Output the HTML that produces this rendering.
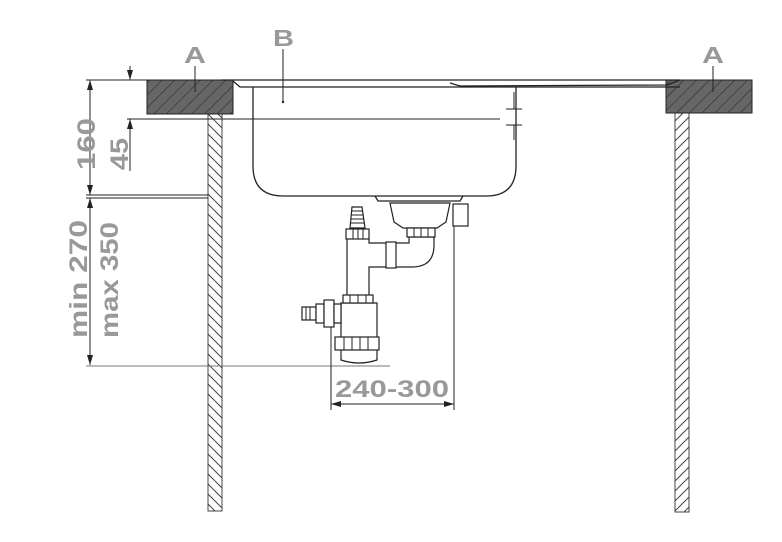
<!DOCTYPE html>
<html><head><meta charset="utf-8"><style>
html,body{margin:0;padding:0;background:#fff;}
svg{display:block;}
text{font-family:"Liberation Sans",sans-serif;font-weight:bold;fill:#999;}
</style></head><body>
<svg width="782" height="542" viewBox="0 0 782 542" xmlns="http://www.w3.org/2000/svg">
<defs>
<pattern id="hc" width="9" height="9" patternUnits="userSpaceOnUse" patternTransform="rotate(45)">
<rect width="9" height="9" fill="#666"/><line x1="0" y1="0" x2="0" y2="9" stroke="#222" stroke-width="1"/>
</pattern>
<pattern id="hl" width="10" height="10" patternUnits="userSpaceOnUse">
<path d="M-2,-6 L18,14 M-2,4 L18,24 M-2,-16 L18,4" stroke="#444" stroke-width="1"/>
</pattern>
<pattern id="hr" width="10" height="10" patternUnits="userSpaceOnUse">
<path d="M12,-6 L-8,14 M12,4 L-8,24 M12,-16 L-8,4" stroke="#444" stroke-width="1"/>
</pattern>
<marker id="ar" markerWidth="10" markerHeight="8" refX="10" refY="4" orient="auto-start-reverse" markerUnits="userSpaceOnUse">
<path d="M0,1 L10,4 L0,7 Z" fill="#222"/></marker>
</defs>

<rect x="208" y="114" width="14" height="397" fill="url(#hl)" stroke="#444" stroke-width="1"/>
<rect x="675" y="113" width="14" height="399" fill="url(#hr)" stroke="#444" stroke-width="1"/>

<rect x="147" y="80" width="86" height="34" fill="url(#hc)" stroke="#222"/>
<rect x="666" y="80" width="86" height="33" fill="url(#hc)" stroke="#222"/>

<text x="184" y="63" font-size="23" textLength="22" lengthAdjust="spacingAndGlyphs">A</text>
<line x1="195" y1="66" x2="195" y2="92" stroke="#222"/>
<text x="273" y="46" font-size="23" textLength="21" lengthAdjust="spacingAndGlyphs">B</text>
<line x1="283" y1="49" x2="283" y2="101" stroke="#222"/><circle cx="283" cy="102" r="1.2" fill="#222"/>
<text x="702" y="63" font-size="23" textLength="22" lengthAdjust="spacingAndGlyphs">A</text>
<line x1="713" y1="66" x2="713" y2="92" stroke="#222"/>

<g fill="none" stroke="#222" stroke-width="1.3">
<path d="M222,80 L680,80 L667,85 L460,86 L450,83"/>
<path d="M233,81 L240,87 L680,87"/>
<path d="M253,87 L253,166 Q253,196 283,196 L486,196 Q516,196 516,166 L516,87"/>
<path d="M375,196 L378,201 L460,201 L463,196"/>
</g>
<line x1="514" y1="92" x2="514" y2="109" stroke="#222"/>
<line x1="506" y1="109" x2="522" y2="109" stroke="#222"/>
<line x1="506" y1="125" x2="522" y2="125" stroke="#222"/>
<line x1="514" y1="125" x2="514" y2="140" stroke="#222"/>

<g stroke="#222" stroke-width="1" fill="none">
<line x1="86" y1="80" x2="147" y2="80"/>
<line x1="127" y1="119" x2="500" y2="119"/>
<line x1="130" y1="66" x2="130" y2="80" marker-end="url(#ar)"/>
<line x1="130" y1="171" x2="130" y2="119" marker-end="url(#ar)"/>
<line x1="90" y1="80" x2="90" y2="195" marker-start="url(#ar)" marker-end="url(#ar)"/>
<line x1="86" y1="195" x2="208" y2="195"/>
<line x1="86" y1="198" x2="208" y2="198"/>
<line x1="90" y1="198" x2="90" y2="365" marker-start="url(#ar)" marker-end="url(#ar)"/>
<line x1="86" y1="366" x2="390" y2="366" stroke="#777"/>
<line x1="331" y1="300" x2="331" y2="410"/>
<line x1="454" y1="214" x2="454" y2="410"/>
<line x1="331" y1="404" x2="454" y2="404" marker-start="url(#ar)" marker-end="url(#ar)"/>
</g>

<text transform="translate(95,170) rotate(-90)" font-size="25" textLength="52" lengthAdjust="spacingAndGlyphs">160</text>
<text transform="translate(128,170) rotate(-90)" font-size="25" textLength="32" lengthAdjust="spacingAndGlyphs">45</text>
<text transform="translate(87,338) rotate(-90)" font-size="25" textLength="118" lengthAdjust="spacingAndGlyphs">min 270</text>
<text transform="translate(118,338) rotate(-90)" font-size="25" textLength="116" lengthAdjust="spacingAndGlyphs">max 350</text>
<text x="335" y="397" font-size="24" textLength="114" lengthAdjust="spacingAndGlyphs">240-300</text>

<!-- siphon -->
<g fill="#fff" stroke="#222" stroke-width="1.2">
<path d="M390,203 L450,203 L446,222 L437,228 L403,228 L394,222 Z"/>
<rect x="453" y="204" width="15" height="22"/>
<path d="M347,238 L369,238 L369,243 L409,243 L409,237 L434,237 L434,245 Q434,267 412,267 L369,267 L369,296 L347,296 Z"/>
<rect x="407" y="228" width="28" height="9"/>
<rect x="386" y="242" width="10" height="26"/>
<path d="M352,207 L362,207 L365,228 L350,228 Z"/>
<rect x="346" y="229" width="23" height="10"/>
<path d="M341,303 L377,303 L377,360 Q359,366 341,360 Z"/>
<rect x="343" y="295" width="30" height="8"/>
<rect x="335" y="337" width="44" height="13"/>
<rect x="302" y="307" width="14" height="13"/>
<rect x="316" y="304" width="8" height="19"/>
<rect x="324" y="300" width="10" height="27"/>
<path d="M334,304 L341,304 L341,323 L334,323 Z"/>
</g>
<g stroke="#222" stroke-width="1">
<line x1="414" y1="228" x2="414" y2="237"/><line x1="421" y1="228" x2="421" y2="237"/><line x1="428" y1="228" x2="428" y2="237"/>
<line x1="353" y1="229" x2="353" y2="239"/><line x1="358" y1="229" x2="358" y2="239"/><line x1="363" y1="229" x2="363" y2="239"/>
<line x1="350" y1="295" x2="350" y2="303"/><line x1="358" y1="295" x2="358" y2="303"/><line x1="366" y1="295" x2="366" y2="303"/>
<line x1="344" y1="337" x2="344" y2="350"/><line x1="352" y1="337" x2="352" y2="350"/><line x1="360" y1="337" x2="360" y2="350"/><line x1="368" y1="337" x2="368" y2="350"/>
<line x1="352" y1="211" x2="362" y2="211"/><line x1="351" y1="215" x2="363" y2="215"/><line x1="351" y1="219" x2="364" y2="219"/><line x1="350" y1="223" x2="364" y2="223"/>
<line x1="306" y1="307" x2="306" y2="320"/><line x1="310" y1="307" x2="310" y2="320"/>
</g>
</svg>
</body></html>
